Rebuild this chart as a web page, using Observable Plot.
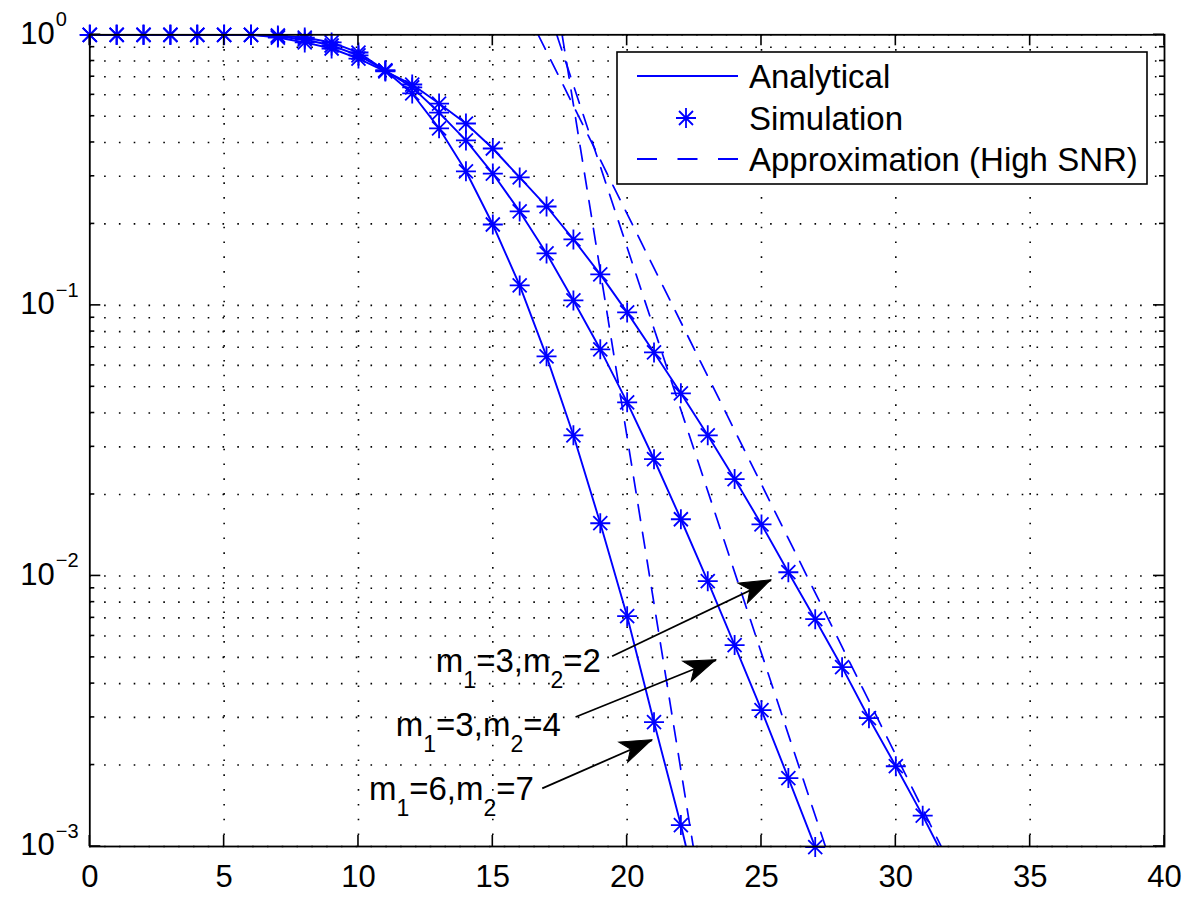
<!DOCTYPE html>
<html><head><meta charset="utf-8">
<script src="https://cdn.jsdelivr.net/npm/d3@7"></script>
<script src="https://cdn.jsdelivr.net/npm/@observablehq/plot@0.6"></script>
<style>html,body{margin:0;padding:0;background:#fff}svg{display:block}</style>
</head><body><div id="chart"></div>
<script>
// ---------- data ----------
const curves = ["m1=6,m2=7", "m1=3,m2=4", "m1=3,m2=2"];

// simulation points (SNR in dB, outage probability)
const simX_A = [0,1,2,3,4,5,6,7,8,9,10,11,12,13,14,15,16,17,18,19,20,21,22];
const simP_A = [1,1,1,1,1,1,1,0.994,0.977,0.937,0.860,0.738,0.607,0.451,0.313,0.199,0.1185,0.0648,0.0331,0.01566,0.0071,0.00288,0.0012];
const simX_B = [0,1,2,3,4,5,6,7,8,9,10,11,12,13,14,15,16,17,18,19,20,21,22,23,24,25,26,27];
const simP_B = [1,1,1,1,1,1,1,0.986,0.961,0.913,0.839,0.738,0.639,0.516,0.407,0.307,0.2225,0.1556,0.1043,0.0688,0.0438,0.027,0.0162,0.00956,0.00555,0.00319,0.00179,0.000995];
const simX_C = [0,1,2,3,4,5,6,7,8,9,10,11,12,13,14,15,16,17,18,19,20,21,22,23,24,25,26,27,28,29,30,31];
const simP_C = [1,1,1,1,1,1,1,0.977,0.937,0.890,0.817,0.732,0.655,0.557,0.470,0.380,0.297,0.232,0.1753,0.1302,0.0942,0.067,0.0473,0.0331,0.0228,0.0155,0.01032,0.00692,0.0046,0.00298,0.00198,0.0013];

// analytical curves (continue past the last simulated point)
const anaX_A = [0,1,2,3,4,5,6,7,8,9,10,11,12,13,14,15,16,17,18,19,20,21,22,23];
const anaP_A = [1,1,1,1,1,1,1,0.994,0.977,0.937,0.860,0.738,0.607,0.451,0.313,0.199,0.1185,0.0648,0.0331,0.01566,0.0071,0.00288,0.0012,0.00046];
const anaX_B = [0,1,2,3,4,5,6,7,8,9,10,11,12,13,14,15,16,17,18,19,20,21,22,23,24,25,26,27,28];
const anaP_B = [1,1,1,1,1,1,1,0.986,0.961,0.913,0.839,0.738,0.639,0.516,0.407,0.307,0.2225,0.1556,0.1043,0.0688,0.0438,0.027,0.0162,0.00956,0.00555,0.00319,0.00179,0.000995,0.00055];
const anaX_C = [0,1,2,3,4,5,6,7,8,9,10,11,12,13,14,15,16,17,18,19,20,21,22,23,24,25,26,27,28,29,30,31,32];
const anaP_C = [1,1,1,1,1,1,1,0.977,0.937,0.890,0.817,0.732,0.655,0.557,0.470,0.380,0.297,0.232,0.1753,0.1302,0.0942,0.067,0.0473,0.0331,0.0228,0.0155,0.01032,0.00692,0.0046,0.00298,0.00198,0.0013,0.00083];

// high-SNR approximations (straight lines, end points)
const apxX_A = [17.58, 22.46], apxP_A = [1, 0.001];
const apxX_B = [17.38, 27.38], apxP_B = [1, 0.001];
const apxX_C = [16.69, 31.69], apxP_C = [1, 0.001];

// axes
const xTicks = [0,5,10,15,20,25,30,35,40];
const xGrid = [5,10,15,20,25,30,35];
const yTicks = [1, 0.1, 0.01, 0.001];
const yMinor = [0.002,0.003,0.004,0.005,0.006,0.007,0.008,0.009,
                0.02,0.03,0.04,0.05,0.06,0.07,0.08,0.09,
                0.2,0.3,0.4,0.5,0.6,0.7,0.8,0.9];

// legend
const legendLabels = ["Analytical", "Simulation", "Approximation (High SNR)"];

// annotations
const annM1 = [3, 3, 6];
const annM2 = [2, 4, 7];
const annTextX = [19.04, 17.55, 16.55], annTextY = [0.00441, 0.00254, 0.00148];
const annTailX = [19.44, 18.08, 16.84], annTailY = [0.00505, 0.00301, 0.00164];
const annTipX = [25.36, 23.31, 20.93], annTipY = [0.00964, 0.00488, 0.00247];

// ---------- build tables ----------
const zip = (xs, ps, c) => xs.map((x, i) => ({snr: x, p: ps[i], curve: c}));
const sim = [...zip(simX_A, simP_A, curves[0]), ...zip(simX_B, simP_B, curves[1]), ...zip(simX_C, simP_C, curves[2])];
const ana = [...zip(anaX_A, anaP_A, curves[0]), ...zip(anaX_B, anaP_B, curves[1]), ...zip(anaX_C, anaP_C, curves[2])];
const apx = [...zip(apxX_A, apxP_A, curves[0]), ...zip(apxX_B, apxP_B, curves[1]), ...zip(apxX_C, apxP_C, curves[2])];
const ann = annM1.map((m1, i) => ({m1, m2: annM2[i], tx: annTextX[i], ty: annTextY[i],
  x1: annTailX[i], y1: annTailY[i], x2: annTipX[i], y2: annTipY[i]}));

// ---------- layout ----------
const W = 1200, H = 911;
const ML = 89.3, MR = 36, MT = 34.3, MB = 65;
const BLUE = "#0000ff";
const FONT = "'Liberation Sans', Arial, Helvetica, sans-serif";

const fallbackX = d3.scaleLinear([0, 40], [ML, W - MR]);
const fallbackY = d3.scaleLog([1e-3, 1], [H - MB, MT]);
const sx = (s) => (s && typeof s.x === "function") ? s.x : fallbackX;
const sy = (s) => (s && typeof s.y === "function") ? s.y : fallbackY;

const asterisk = {
  draw(ctx, size) {
    const r = Math.sqrt(size / Math.PI);
    const d = r * 0.7;
    ctx.moveTo(-r, 0); ctx.lineTo(r, 0);
    ctx.moveTo(0, -r); ctx.lineTo(0, r);
    ctx.moveTo(-d, -d); ctx.lineTo(d, d);
    ctx.moveTo(-d, d); ctx.lineTo(d, -d);
  }
};

// inward ticks on all four sides
function ticksMark(index, scales, values, dims) {
  const x = sx(scales), y = sy(scales);
  const L = dims.marginLeft, R = dims.width - dims.marginRight;
  const T = dims.marginTop, B = dims.height - dims.marginBottom;
  const g = d3.create("svg:g").attr("stroke", "black").attr("stroke-width", 1.6).attr("fill", "none");
  for (const t of xTicks) {
    const px = x(t);
    g.append("line").attr("x1", px).attr("x2", px).attr("y1", B).attr("y2", B - 11);
    g.append("line").attr("x1", px).attr("x2", px).attr("y1", T).attr("y2", T + 11);
  }
  for (const t of yTicks) {
    const py = y(t);
    g.append("line").attr("x1", L).attr("x2", L + 11).attr("y1", py).attr("y2", py);
    g.append("line").attr("x1", R).attr("x2", R - 11).attr("y1", py).attr("y2", py);
  }
  for (const t of yMinor) {
    const py = y(t);
    g.append("line").attr("x1", L).attr("x2", L + 5).attr("y1", py).attr("y2", py);
    g.append("line").attr("x1", R).attr("x2", R - 5).attr("y1", py).attr("y2", py);
  }
  return g.node();
}

// legend box
function legendMark(index, scales, values, dims) {
  const g = d3.create("svg:g");
  const bx = 617, by = 52, bw = 530, bh = 132;
  g.append("rect").attr("x", bx).attr("y", by).attr("width", bw).attr("height", bh)
    .attr("fill", "white").attr("stroke", "black").attr("stroke-width", 1.6);
  const rows = [76, 118, 159];
  g.append("line").attr("x1", 637).attr("x2", 738).attr("y1", rows[0]).attr("y2", rows[0])
    .attr("stroke", BLUE).attr("stroke-width", 1.8);
  const p = d3.path(); asterisk.draw(p, Math.PI * 10 * 10);
  g.append("path").attr("d", p.toString()).attr("transform", `translate(686,${rows[1]})`)
    .attr("stroke", BLUE).attr("stroke-width", 1.8).attr("fill", "none");
  g.append("line").attr("x1", 637).attr("x2", 738).attr("y1", rows[2]).attr("y2", rows[2])
    .attr("stroke", BLUE).attr("stroke-width", 1.8).attr("stroke-dasharray", "20,20.5");
  legendLabels.forEach((t, i) => {
    g.append("text").attr("x", 749).attr("y", rows[i]).attr("dy", "0.36em")
      .attr("text-anchor", "start")
      .attr("font-size", 33).attr("font-family", FONT).attr("fill", "black").text(t);
  });
  return g.node();
}

// annotation labels with subscripts
function labelMark(index, scales, values, dims) {
  const x = sx(scales), y = sy(scales);
  const g = d3.create("svg:g").attr("font-family", FONT).attr("fill", "black");
  for (const a of ann) {
    const t = g.append("text").attr("x", x(a.tx)).attr("y", y(a.ty))
      .attr("text-anchor", "end").attr("font-size", 33);
    t.append("tspan").text("m");
    t.append("tspan").attr("font-size", 23).attr("dy", 16).text("1");
    t.append("tspan").attr("dy", -16).text(`=${a.m1},m`);
    t.append("tspan").attr("font-size", 23).attr("dy", 16).text("2");
    t.append("tspan").attr("dy", -16).text(`=${a.m2}`);
  }
  return g.node();
}

// filled arrow heads
function headMark(index, scales, values, dims) {
  const x = sx(scales), y = sy(scales);
  const g = d3.create("svg:g").attr("fill", "black").attr("stroke", "black").attr("stroke-width", 1);
  for (const a of ann) {
    const X1 = x(a.x1), Y1 = y(a.y1), X2 = x(a.x2), Y2 = y(a.y2);
    const ang = Math.atan2(Y2 - Y1, X2 - X1) * 180 / Math.PI;
    g.append("path").attr("d", "M0,0L-31,-11L-23,0L-31,11Z")
      .attr("transform", `translate(${X2},${Y2}) rotate(${ang})`);
  }
  return g.node();
}

const chart = Plot.plot({
  width: W, height: H,
  marginLeft: ML, marginRight: MR, marginTop: MT, marginBottom: MB,
  style: {fontFamily: FONT, background: "white", overflow: "visible"},
  x: {domain: [0, 40], axis: null},
  y: {type: "log", domain: [1e-3, 1], axis: null},
  marks: [
    Plot.ruleX(xGrid, {stroke: "black", strokeWidth: 1.6, strokeDasharray: "1.6,13.2"}),
    Plot.ruleY([...yTicks, ...yMinor], {stroke: "black", strokeWidth: 1.6, strokeDasharray: "1.6,13.2"}),
    Plot.line(apx, {x: "snr", y: "p", z: "curve", stroke: BLUE, strokeWidth: 1.7, strokeDasharray: "16,12", clip: true}),
    Plot.line(ana, {x: "snr", y: "p", z: "curve", stroke: BLUE, strokeWidth: 1.9, clip: true}),
    Plot.dot(sim, {x: "snr", y: "p", symbol: asterisk, r: 10, stroke: BLUE, fill: "none", strokeWidth: 1.8}),
    Plot.frame({stroke: "black", strokeWidth: 1.8}),
    ticksMark,
    Plot.text(xTicks, {x: d => d, frameAnchor: "bottom", dy: 40, text: d => String(d), fontSize: 31, fill: "black"}),
    Plot.text(yTicks, {y: d => d, frameAnchor: "left", dx: -35, dy: -1, textAnchor: "end", text: () => "10", fontSize: 31, fill: "black"}),
    Plot.text(yTicks, {y: d => d, frameAnchor: "left", dx: -34, dy: -15, textAnchor: "start",
      text: d => { const e = Math.round(Math.log10(d)); return e === 0 ? "0" : "\u2212" + Math.abs(e); }, fontSize: 20, fill: "black"}),
    legendMark,
    Plot.link(ann, {x1: "x1", y1: "y1", x2: "x2", y2: "y2", stroke: "black", strokeWidth: 1.8}),
    headMark,
    labelMark
  ]
});
document.getElementById("chart").appendChild(chart);
</script>
</body></html>
